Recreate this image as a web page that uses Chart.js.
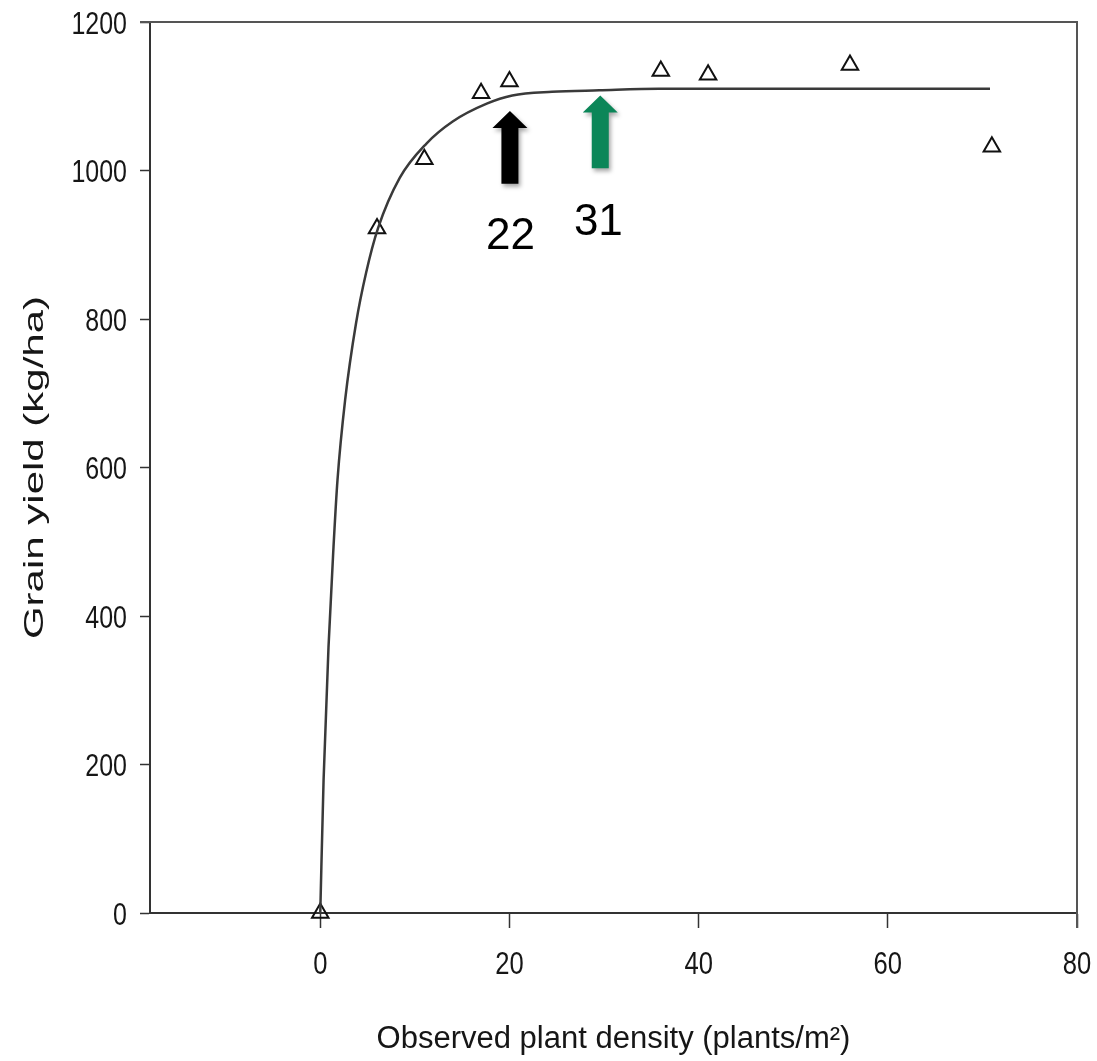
<!DOCTYPE html>
<html>
<head>
<meta charset="utf-8">
<script src="https://cdn.jsdelivr.net/npm/chart.js@4/dist/chart.umd.min.js"></script>
<style>
  html, body { margin: 0; padding: 0; background: #fff; }
  #wrap { width: 1097px; height: 1061px; position: relative; }
</style>
</head>
<body>
<div id="wrap"><canvas id="chart"></canvas></div>
<script>
// Grain yield vs observed plant density, with fitted response curve.

const densityObs = [0, 6, 11, 17, 20, 36, 41, 56, 71];
const yieldObs = [0, 922, 1015, 1104, 1120, 1134, 1129, 1142, 1032];

// fitted curve
const curveX = [0, 0.35, 0.87, 1.4, 1.82, 2.63, 3.79, 4.84, 6.1, 8.4, 11.2, 14.0, 17.6, 20.3, 24.5, 29.5, 35.8, 50, 70.8];
const curveY = [0, 179, 358, 493, 583, 691, 795, 862, 922, 990, 1036, 1066, 1090, 1101, 1106, 1108, 1110, 1110, 1110];

const xTicks = [0, 20, 40, 60, 80];
const yTicks = [0, 200, 400, 600, 800, 1000, 1200];

const xTitle = 'Observed plant density (plants/m²)';
const yTitle = 'Grain yield (kg/ha)';

// arrows: x, tip, base (data units), label text and label position
const arrowX = [20.05, 29.6];
const arrowTip = [1080, 1101];
const arrowBase = [982, 1003];
const arrowText = ['22', '31'];
const arrowTextX = [20.1, 29.4];
const arrowTextY = [910, 929];
const arrowColors = ['#000000', '#0b8658'];

const AXIS = '#333';
const TEXT = '#161616';
const FONT = '"Liberation Sans", Arial, sans-serif';

// the source figure's text is squeezed sideways, so labels are drawn with a horizontal scale
function squeezedText(ctx, text, x, y, sx, align, baseline) {
  ctx.save();
  ctx.translate(x, y);
  ctx.scale(sx, 1);
  ctx.textAlign = align;
  ctx.textBaseline = baseline;
  ctx.fillText(text, 0, 0);
  ctx.restore();
}

const extras = {
  id: 'extras',
  beforeDatasetsDraw(chart) {
    const {ctx, chartArea: a} = chart;
    ctx.save();
    ctx.strokeStyle = '#555';
    ctx.lineWidth = 2;
    ctx.beginPath();
    ctx.moveTo(a.left - 10, a.top);
    ctx.lineTo(a.right, a.top);
    ctx.lineTo(a.right, a.bottom + 15);
    ctx.stroke();
    ctx.restore();
  },
  afterDatasetsDraw(chart) {
    const {ctx, scales: {x, y}} = chart;
    ctx.save();
    for (let i = 0; i < arrowX.length; i++) {
      const px = x.getPixelForValue(arrowX[i]);
      const tip = y.getPixelForValue(arrowTip[i]);
      const base = y.getPixelForValue(arrowBase[i]);
      const headLen = 17, shaft = 8.5, head = 17.5;
      ctx.save();
      ctx.shadowColor = 'rgba(0,0,0,0.35)';
      ctx.shadowBlur = 4;
      ctx.shadowOffsetX = 2;
      ctx.shadowOffsetY = 3;
      ctx.fillStyle = arrowColors[i];
      ctx.beginPath();
      ctx.moveTo(px, tip);
      ctx.lineTo(px + head, tip + headLen);
      ctx.lineTo(px + shaft, tip + headLen);
      ctx.lineTo(px + shaft, base);
      ctx.lineTo(px - shaft, base);
      ctx.lineTo(px - shaft, tip + headLen);
      ctx.lineTo(px - head, tip + headLen);
      ctx.closePath();
      ctx.fill();
      ctx.restore();

      ctx.fillStyle = '#000';
      ctx.font = '44px ' + FONT;
      ctx.textAlign = 'center';
      ctx.textBaseline = 'middle';
      ctx.fillText(arrowText[i], x.getPixelForValue(arrowTextX[i]), y.getPixelForValue(arrowTextY[i]));
    }
    ctx.restore();
  },
  afterDraw(chart) {
    const {ctx, chartArea: a, scales: {x, y}} = chart;
    ctx.save();
    ctx.fillStyle = TEXT;
    ctx.font = '32px ' + FONT;
    x.ticks.forEach(t => {
      squeezedText(ctx, String(t.value), x.getPixelForValue(t.value), 974, 0.8, 'center', 'alphabetic');
    });
    y.ticks.forEach(t => {
      squeezedText(ctx, String(t.value), 127, y.getPixelForValue(t.value) + 11.5, 0.78, 'right', 'alphabetic');
    });

    // y title, stretched along its length as in the source figure
    ctx.translate(35, (a.top + a.bottom) / 2);
    ctx.rotate(-Math.PI / 2);
    ctx.scale(1.5, 1);
    ctx.font = '28px ' + FONT;
    ctx.textAlign = 'center';
    ctx.textBaseline = 'middle';
    ctx.fillText(yTitle, 0, 0);
    ctx.restore();
  }
};

new Chart(document.getElementById('chart'), {
  data: {
    datasets: [
      {
        type: 'line',
        label: 'Fitted',
        data: curveX.map((v, i) => ({x: v, y: curveY[i]})),
        borderColor: '#3a3a3a',
        borderWidth: 2.5,
        pointRadius: 0,
        cubicInterpolationMode: 'monotone',
        fill: false
      },
      {
        type: 'scatter',
        label: 'Observed',
        data: densityObs.map((v, i) => ({x: v, y: yieldObs[i]})),
        pointStyle: 'triangle',
        pointRadius: 9.5,
        borderWidth: 2,
        borderColor: '#111',
        backgroundColor: 'rgba(0,0,0,0)',
        clip: false
      }
    ]
  },
  options: {
    responsive: true,
    maintainAspectRatio: false,
    animation: false,
    layout: { padding: { left: 0, top: 22, right: 20, bottom: 0 } },
    plugins: { legend: { display: false }, tooltip: { enabled: false } },
    scales: {
      x: {
        type: 'linear',
        min: -18,
        max: 80,
        afterBuildTicks: (s) => { s.ticks = xTicks.map(v => ({value: v})); },
        afterFit: (s) => { s.height = 148; },
        border: { display: true, color: AXIS, width: 2 },
        grid: { drawOnChartArea: false, drawTicks: true, tickLength: 15, tickColor: AXIS, tickWidth: 1.5 },
        ticks: { display: false },
        title: { display: true, text: xTitle, color: TEXT, font: {family: FONT, size: 31}, padding: {top: 0, bottom: 3} }
      },
      y: {
        type: 'linear',
        min: 0,
        max: 1200,
        afterBuildTicks: (s) => { s.ticks = yTicks.map(v => ({value: v})); },
        afterFit: (s) => { s.width = 150; },
        border: { display: true, color: AXIS, width: 2 },
        grid: { drawOnChartArea: false, drawTicks: true, tickLength: 10, tickColor: AXIS, tickWidth: 1.5 },
        ticks: { display: false }
      }
    }
  },
  plugins: [extras]
});
</script>
</body>
</html>
